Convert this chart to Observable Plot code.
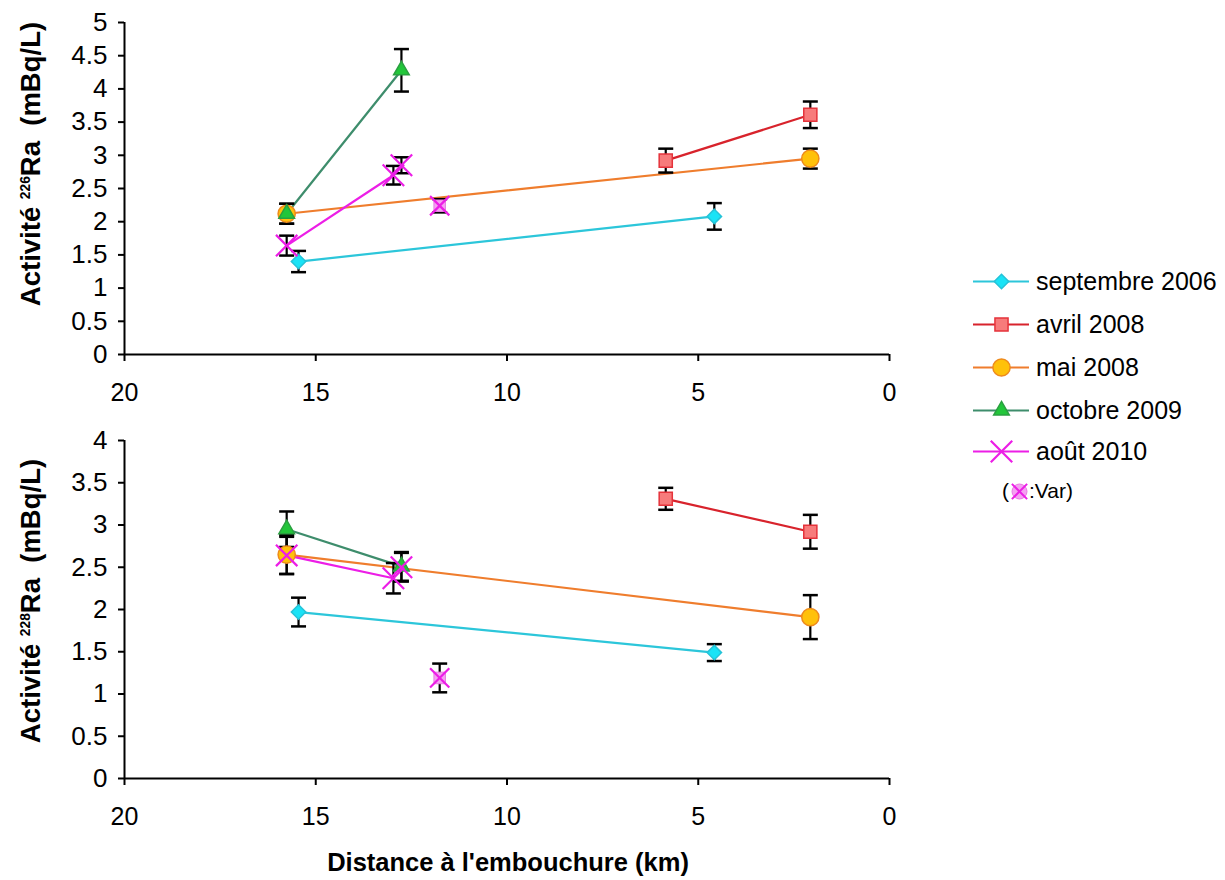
<!DOCTYPE html>
<html><head><meta charset="utf-8">
<script src="https://cdn.jsdelivr.net/npm/d3@7"></script>
<script src="https://cdn.jsdelivr.net/npm/@observablehq/plot@0.6"></script>
<style>
body{margin:0;background:#fff;font-family:"Liberation Sans",Arial,sans-serif;}
#wrap{position:relative;width:1225px;height:880px;overflow:hidden;}
#wrap svg text{font-family:"Liberation Sans",Arial,sans-serif !important;}
#wrap svg g[aria-label="x-axis tick label"], #wrap svg g[aria-label="x-axis tick label"] text{font-size:25px !important;}
#wrap svg g[aria-label="y-axis tick label"], #wrap svg g[aria-label="y-axis tick label"] text{font-size:26px !important;}
.ytitle{position:absolute;font-weight:bold;font-size:27.5px;white-space:nowrap;transform:translate(-50%,-50%) rotate(-90deg);color:#000;}
.ytitle sup{font-size:0.5em;vertical-align:0.75em;}
.xtitle{position:absolute;font-weight:bold;font-size:25.5px;white-space:nowrap;transform:translate(-50%,-50%);color:#000;}
.legrow{position:absolute;display:flex;align-items:center;white-space:nowrap;font-size:25px;color:#000;}
.legrow svg{display:block;}
</style></head><body><div id="wrap"></div>
<script>
// ---- data ----
const seriesNames = ["septembre 2006", "avril 2008", "mai 2008", "octobre 2009", "août 2010"];
const distanceKm = [[15.45, 4.58], [5.85, 2.07], [15.76, 2.07], [15.76, 12.76], [15.76, 12.97]];
const ra226 = [[1.40, 2.08], [2.92, 3.61], [2.12, 2.95], [2.12, 4.28], [1.64, 2.70]];
const ra226Err = [[0.16, 0.20], [0.18, 0.20], [0.15, 0.15], [0.15, 0.32], [0.15, 0.14]];
const ra228 = [[1.97, 1.49], [3.31, 2.92], [2.65, 1.91], [2.95, 2.51], [2.64, 2.37]];
const ra228Err = [[0.17, 0.10], [0.13, 0.20], [0.23, 0.26], [0.21, 0.17], [0.22, 0.18]];
// extra août 2010 sample (not joined by the line)
const extraKm = [12.76];
const extra226 = [2.85];
const extra226Err = [0.12];
const extra228 = [2.50];
const extra228Err = [0.17];
// Var samples
const varKm = [11.76];
const var226 = [2.24];
const var226Err = [0.10];
const var228 = [1.19];
const var228Err = [0.17];
// ticks
const xTicks = [20, 15, 10, 5, 0];
const yTicks226 = [0, 0.5, 1, 1.5, 2, 2.5, 3, 3.5, 4, 4.5, 5];
const yTicks228 = [0, 0.5, 1, 1.5, 2, 2.5, 3, 3.5, 4];

// ---- styles ----
const lineColors = ["#2cc6da", "#d8232c", "#ef7d2d", "#3e8d6c", "#ec1ee6"];
const markFill = ["#19e3f6", "#f77b7b", "#ffc10a", "#22c63a", "none"];
const markStroke = ["#25c3d8", "#e5333b", "#ee8a1c", "#2aa040", "#ec1ee6"];
const symbols = ["diamond2", "square", "circle", "triangle", "times"];
const radii = [6.5, 7.4, 8.6, 5.8, 9.8];
const capSymbol = {draw(ctx) { ctx.moveTo(-7.5, 0); ctx.lineTo(7.5, 0); }};
const FONT = "'Liberation Sans', Arial, sans-serif";

const wrap = document.getElementById("wrap");

function panel(vals, errs, exV, exE, vV, vE, yMax, yTicks, mTop, mBottom, height) {
  const marks = [];
  const rows = [];
  seriesNames.forEach((name, i) => {
    const pts = distanceKm[i].map((km, j) => ({name, km, v: vals[i][j], lo: vals[i][j] - errs[i][j], hi: vals[i][j] + errs[i][j]}));
    rows.push(pts);
  });
  const extra = extraKm.map((km, j) => ({km, v: exV[j], lo: exV[j] - exE[j], hi: exV[j] + exE[j]}));
  const vars = varKm.map((km, j) => ({km, v: vV[j], lo: vV[j] - vE[j], hi: vV[j] + vE[j]}));
  marks.push(Plot.ruleY([0], {stroke: "#000", strokeWidth: 2}));
  marks.push(Plot.ruleX([20], {stroke: "#000", strokeWidth: 2}));
  rows.forEach((pts, i) => marks.push(Plot.line(pts, {x: "km", y: "v", stroke: lineColors[i], strokeWidth: 2.2})));
  const allErr = rows.flat().concat(extra, vars);
  marks.push(Plot.ruleX(allErr, {x: "km", y1: "lo", y2: "hi", stroke: "#000", strokeWidth: 2.2}));
  marks.push(Plot.dot(allErr, {x: "km", y: "lo", symbol: capSymbol, stroke: "#000", strokeWidth: 2.5, fill: "none"}));
  marks.push(Plot.dot(allErr, {x: "km", y: "hi", symbol: capSymbol, stroke: "#000", strokeWidth: 2.5, fill: "none"}));
  rows.forEach((pts, i) => marks.push(Plot.dot(pts, {x: "km", y: "v", symbol: symbols[i], r: radii[i], fill: markFill[i], stroke: markStroke[i], strokeWidth: symbols[i] === "times" ? 2.2 : 1.5})));
  marks.push(Plot.dot(extra, {x: "km", y: "v", symbol: "times", r: radii[4], stroke: lineColors[4], strokeWidth: 2.2, fill: "none"}));
  marks.push(Plot.dot(vars, {x: "km", y: "v", symbol: "square", r: 6.5, fill: "#f5a0f2", stroke: "#e77be2", strokeWidth: 1}));
  marks.push(Plot.dot(vars, {x: "km", y: "v", symbol: "times", r: 8.8, stroke: "#ec1ee6", strokeWidth: 2.2, fill: "none"}));
  marks.push(Plot.axisX({ticks: xTicks, tickSize: 7, tickPadding: 22, fontSize: 25, tickFormat: d => String(d), label: null, stroke: "#000", strokeWidth: 2}));
  marks.push(Plot.axisY({ticks: yTicks, tickSize: 6, tickPadding: 11, fontSize: 26, tickFormat: d => String(d), label: null, stroke: "#000", strokeWidth: 2}));
  return Plot.plot({
    width: 910, height,
    marginLeft: 124, marginRight: 21, marginTop: mTop, marginBottom: mBottom,
    x: {domain: [20, 0]},
    y: {domain: [0, yMax]},
    style: {fontFamily: FONT, fontSize: "25px", color: "#000", background: "transparent", overflow: "visible"},
    marks
  });
}

const topPanel = panel(ra226, ra226Err, extra226, extra226Err, var226, var226Err, 5, yTicks226, 22, 66, 420);
topPanel.style.position = "absolute"; topPanel.style.left = "0px"; topPanel.style.top = "0px";
wrap.appendChild(topPanel);

const botPanel = panel(ra228, ra228Err, extra228, extra228Err, var228, var228Err, 4, yTicks228, 20, 62, 420);
botPanel.style.position = "absolute"; botPanel.style.left = "0px"; botPanel.style.top = "420px";
wrap.appendChild(botPanel);

function addDiv(cls, html, x, y) {
  const d = document.createElement("div");
  d.className = cls; d.innerHTML = html;
  d.style.left = x + "px"; d.style.top = y + "px";
  wrap.appendChild(d);
  return d;
}
addDiv("ytitle", "Activité <sup>226</sup>Ra&nbsp; (mBq/L)", 31, 164);
addDiv("ytitle", "Activité <sup>228</sup>Ra&nbsp; (mBq/L)", 31, 601);
addDiv("xtitle", "Distance à l'embouchure (km)", 508, 862);

function swatch(i) {
  return Plot.plot({
    width: 56, height: 30, margin: 0, axis: null,
    x: {domain: [0, 1]}, y: {domain: [0, 1]},
    style: {background: "transparent", overflow: "visible"},
    marks: [
      Plot.ruleY([0.5], {stroke: lineColors[i], strokeWidth: 2.2}),
      Plot.dot([0.5], {x: d => d, y: d => d, symbol: symbols[i], r: radii[i], fill: markFill[i], stroke: markStroke[i], strokeWidth: symbols[i] === "times" ? 2.2 : 1.5})
    ]
  });
}
const legendY = [281, 324, 367, 410, 451];
seriesNames.forEach((name, i) => {
  const row = document.createElement("div");
  row.className = "legrow";
  row.style.left = "973px"; row.style.top = (legendY[i] - 15) + "px";
  row.appendChild(swatch(i));
  const t = document.createElement("span");
  t.textContent = name; t.style.marginLeft = "7px";
  row.appendChild(t);
  wrap.appendChild(row);
});
const vrow = document.createElement("div");
vrow.className = "legrow"; vrow.style.fontSize = "21px";
vrow.style.left = "1002px"; vrow.style.top = (491 - 12) + "px";
const o = document.createElement("span"); o.textContent = "(";
vrow.appendChild(o);
vrow.appendChild(Plot.plot({
  width: 20, height: 24, margin: 0, axis: null,
  x: {domain: [0, 1]}, y: {domain: [0, 1]},
  style: {background: "transparent", overflow: "visible"},
  marks: [
    Plot.dot([0.5], {x: d => d, y: d => d, r: 7.5, fill: "#f5a0f2", stroke: "#e77be2", strokeWidth: 1}),
    Plot.dot([0.5], {x: d => d, y: d => d, symbol: "times", r: 7, stroke: "#ec1ee6", strokeWidth: 2, fill: "none"})
  ]
}));
const cl = document.createElement("span"); cl.textContent = ":Var)";
vrow.appendChild(cl);
wrap.appendChild(vrow);
</script></body></html>
